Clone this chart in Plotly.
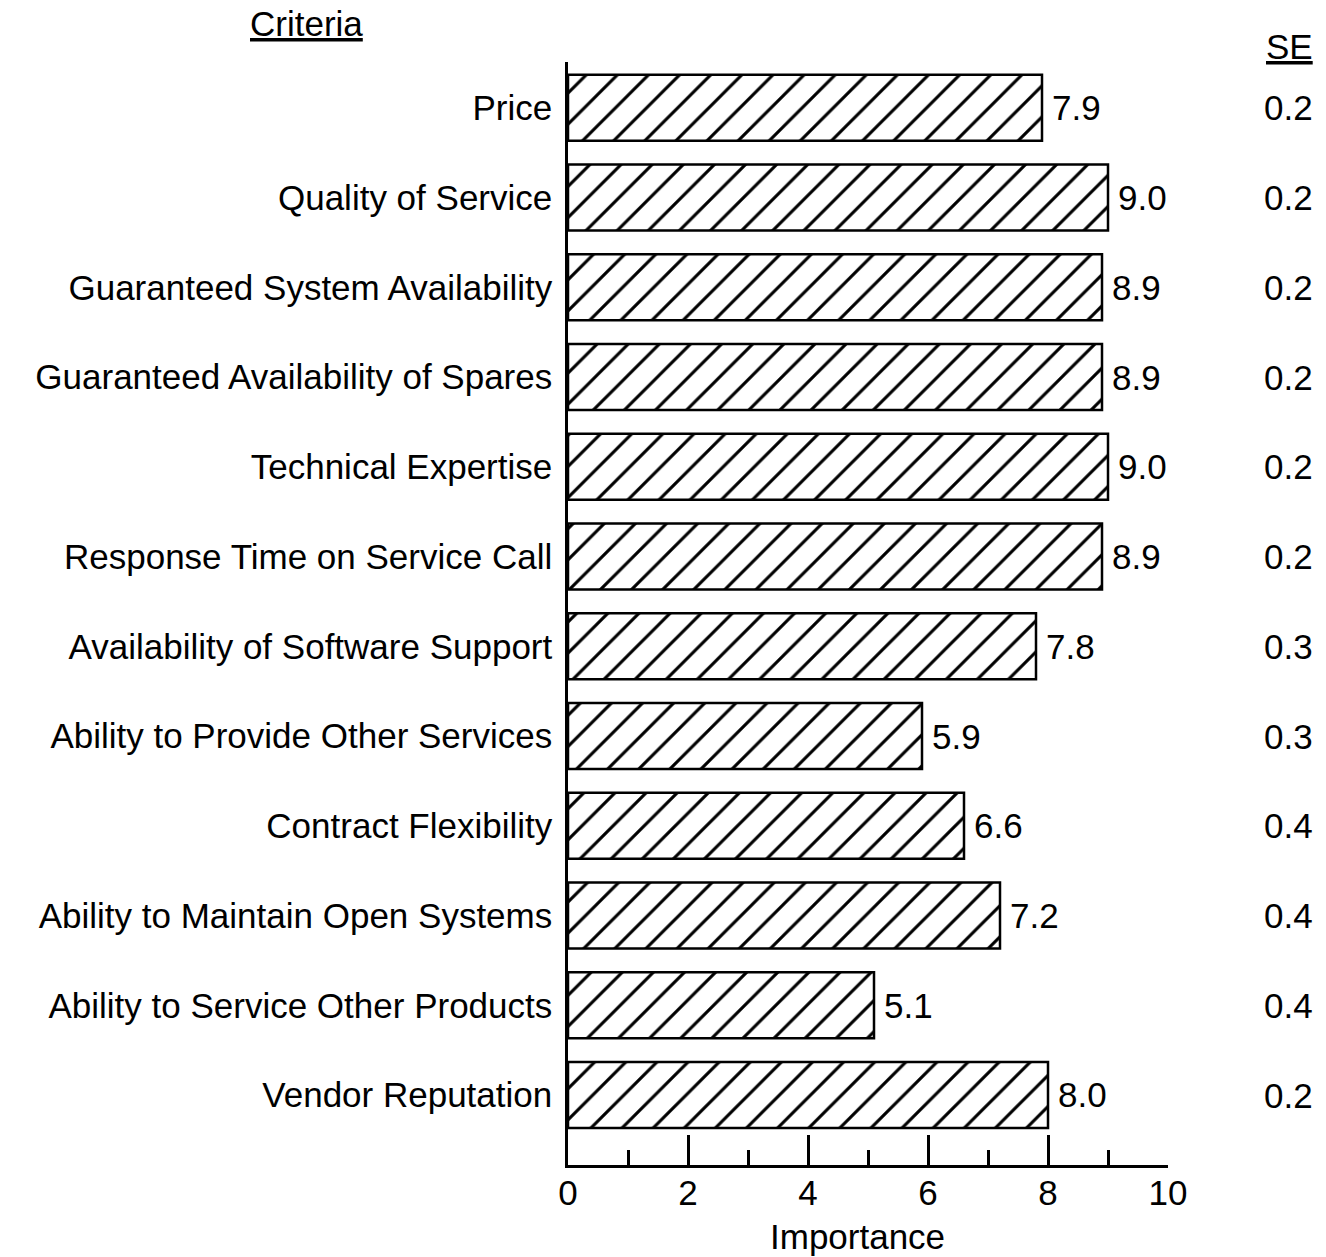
import plotly.graph_objects as go

criteria = [
    "Price",
    "Quality of Service",
    "Guaranteed System Availability",
    "Guaranteed Availability of Spares",
    "Technical Expertise",
    "Response Time on Service Call",
    "Availability of Software Support",
    "Ability to Provide Other Services",
    "Contract Flexibility",
    "Ability to Maintain Open Systems",
    "Ability to Service Other Products",
    "Vendor Reputation",
]
importance = [7.9, 9.0, 8.9, 8.9, 9.0, 8.9, 7.8, 5.9, 6.6, 7.2, 5.1, 8.0]
se = [0.2, 0.2, 0.2, 0.2, 0.2, 0.2, 0.3, 0.3, 0.4, 0.4, 0.4, 0.2]
x_ticks = [0, 2, 4, 6, 8, 10]

FONT = "Liberation Sans, Arial, Helvetica, sans-serif"
FS = 35

fig = go.Figure()
fig.add_trace(go.Bar(
    x=importance,
    y=criteria,
    orientation="h",
    marker=dict(
        color="white",
        line=dict(color="black", width=2.5),
        pattern=dict(shape="/", fgcolor="black", bgcolor="white", fgopacity=1,
                     fillmode="replace", size=22, solidity=0.14),
    ),
    texttemplate="\u2009%{x:.1f}",
    textposition="outside",
    textfont=dict(family=FONT, size=FS, color="black"),
    cliponaxis=False,
    showlegend=False,
))

for i, s in enumerate(se):
    fig.add_annotation(
        x=(1288 - 568) / 600, xref="paper", y=i, yref="y",
        text=f"{s:.1f}", showarrow=False,
        font=dict(family=FONT, size=FS, color="black"),
        xanchor="center", yanchor="middle",
    )

fig.add_annotation(
    x=(1289 - 568) / 600, xref="paper", y=1 + (62 - 46) / 1103, yref="paper",
    text="<u>SE</u>", showarrow=False,
    font=dict(family=FONT, size=FS, color="black"),
    xanchor="center", yanchor="middle",
)
fig.add_annotation(
    x=(306 - 568) / 600, xref="paper", y=1 + (62 - 23) / 1103, yref="paper",
    text="<u>Criteria</u>", showarrow=False,
    font=dict(family=FONT, size=FS, color="black"),
    xanchor="center", yanchor="middle",
)
fig.add_annotation(
    x=(857 - 568) / 600, xref="paper", y=(1165 - 1236) / 1103, yref="paper",
    text="Importance", showarrow=False,
    font=dict(family=FONT, size=FS, color="black"),
    xanchor="center", yanchor="middle",
)

fig.update_layout(
    width=1326, height=1257,
    margin=dict(l=568, r=158, t=62, b=92),
    paper_bgcolor="white", plot_bgcolor="white",
    bargap=0.264,
    font=dict(family=FONT, size=FS, color="black"),
    xaxis=dict(
        range=[0, 10],
        tickvals=x_ticks,
        ticks="inside", ticklen=30, tickwidth=2.5, tickcolor="black",
        minor=dict(ticks="inside", ticklen=15, tickwidth=2.5, tickcolor="black", dtick=1, showgrid=False),
        showline=True, linecolor="black", linewidth=2.5,
        showgrid=False, zeroline=False,
        ticklabelstandoff=-5,
        tickfont=dict(family=FONT, size=FS, color="black"),
    ),
    yaxis=dict(
        type="category",
        categoryorder="array", categoryarray=criteria,
        range=[11.78, -0.51],
        showline=True, linecolor="black", linewidth=2.5,
        ticks="", showgrid=False, zeroline=False,
        ticklabelstandoff=6,
        tickfont=dict(family=FONT, size=FS, color="black"),
    ),
)

fig.write_html("out.html", config={"displayModeBar": False},
               post_script="document.body.style.margin='0';")
